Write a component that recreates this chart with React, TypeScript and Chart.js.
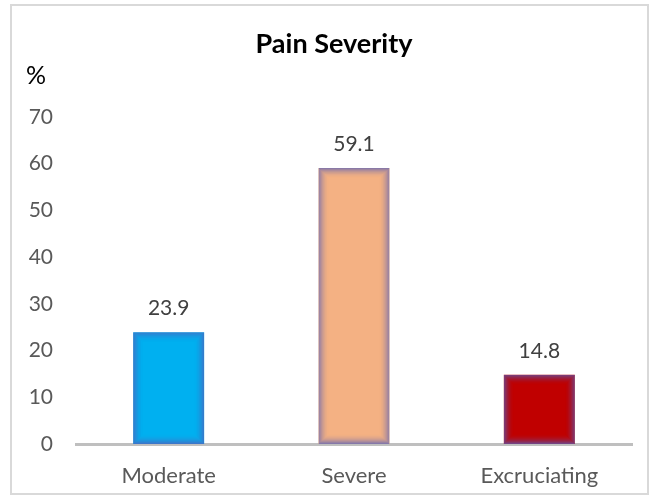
import React, { useEffect, useRef } from "react";
import { Chart, registerables } from "chart.js";

Chart.register(...registerables);

const categories = ["Moderate", "Severe", "Excruciating"];
const values = [23.9, 59.1, 14.8];
const barColors = ["#00b0f0", "#f4b183", "#c00000"];
const yTicks = [0, 10, 20, 30, 40, 50, 60, 70];
const titleText = "Pain Severity";
const unitText = "%";

const FONT = "Lato, 'Open Sans', sans-serif";

export default function App() {
  const ref = useRef<HTMLCanvasElement | null>(null);

  useEffect(() => {
    const canvas = ref.current;
    if (!canvas) return;

    const overlay = {
      id: "overlay",
      afterDatasetsDraw(chart: any) {
        const ctx = chart.ctx;
        const meta = chart.getDatasetMeta(0);
        // inner glow on bars
        meta.data.forEach((el: any) => {
          const w = el.width;
          const l = el.x - w / 2;
          const t = el.y;
          const h = el.base - el.y;
          ctx.save();
          ctx.beginPath();
          ctx.rect(l, t, w, h);
          ctx.clip();
          const N = 10;
          for (let i = 0; i < N; i++) {
            const a = 0.7 * Math.pow(1 - i / N, 2);
            ctx.strokeStyle = `rgba(85,95,185,${a})`;
            ctx.lineWidth = 1;
            ctx.strokeRect(l + i + 0.5, t + i + 0.5, w - 2 * i - 1, h - 2 * i - 1);
          }
          ctx.restore();
        });
        // data labels
        ctx.save();
        ctx.fillStyle = "#404040";
        ctx.font = `21px ${FONT}`;
        ctx.textAlign = "center";
        ctx.textBaseline = "middle";
        meta.data.forEach((el: any, i: number) => {
          ctx.fillText(String(values[i]), el.x, el.y - 24);
        });
        ctx.restore();
        // title and unit
        ctx.save();
        ctx.fillStyle = "#000000";
        ctx.font = `bold 27px ${FONT}`;
        ctx.textAlign = "center";
        ctx.textBaseline = "alphabetic";
        ctx.fillText(titleText, 334, 53);
        ctx.font = `25px ${FONT}`;
        ctx.textAlign = "left";
        ctx.textBaseline = "middle";
        ctx.fillText(unitText, 26, 76);
        ctx.restore();
      },
    };

    const chart = new Chart(canvas, {
      type: "bar",
      data: {
        labels: categories,
        datasets: [
          {
            data: values,
            backgroundColor: barColors,
            borderWidth: 0,
            barPercentage: 0.383,
            categoryPercentage: 1,
          },
        ],
      },
      options: {
        responsive: false,
        animation: false,
        layout: { padding: { left: 0, top: 117, right: 28, bottom: 0 } },
        plugins: {
          legend: { display: false },
          title: { display: false },
          tooltip: { enabled: false },
        },
        scales: {
          x: {
            grid: { display: false, drawTicks: false },
            border: { display: true, color: "#bfbfbf", width: 3 },
            ticks: {
              color: "#595959",
              font: { family: FONT, size: 22 },
              padding: 19,
              maxRotation: 0,
            },
            afterFit(scale: any) {
              scale.height = 504 - 444;
            },
          },
          y: {
            min: 0,
            max: 70,
            grid: { display: false, drawTicks: false },
            border: { display: false },
            afterBuildTicks(scale: any) {
              scale.ticks = yTicks.map((v) => ({ value: v }));
            },
            ticks: {
              color: "#595959",
              font: { family: FONT, size: 21 },
              padding: 23,
            },
            afterFit(scale: any) {
              scale.width = 76;
            },
          },
        },
      },
      plugins: [overlay],
    });

    return () => chart.destroy();
  }, []);

  return (
    <div style={{ position: "absolute", left: 0, top: 0, width: 660, height: 504, background: "#ffffff" }}>
      <div
        style={{
          position: "absolute",
          left: 10,
          top: 4,
          width: 639,
          height: 491,
          border: "2px solid #d9d9d9",
          boxSizing: "border-box",
        }}
      />
      <canvas ref={ref} width={660} height={504} style={{ position: "absolute", left: 0, top: 0 }} />
    </div>
  );
}
